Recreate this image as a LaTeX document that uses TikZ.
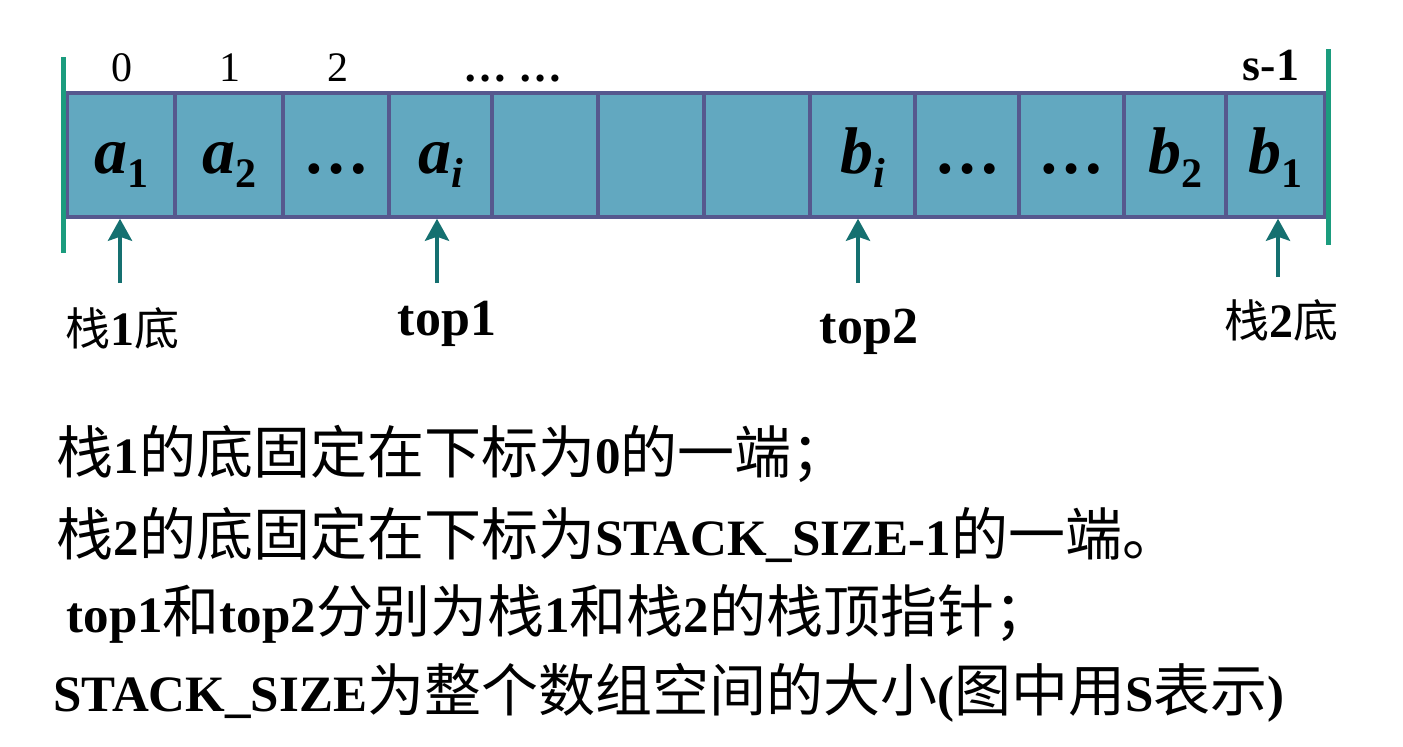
\documentclass[tikz,border=0pt]{standalone}
\usepackage{fontspec}
\setmainfont{Liberation Serif}
\newfontfamily\cjk{Noto Sans CJK SC}
\usetikzlibrary{arrows.meta}

\definecolor{cellfill}{RGB}{98,168,192}
\definecolor{cellline}{RGB}{86,88,142}
\definecolor{barcol}{RGB}{27,156,126}
\definecolor{ptrcol}{RGB}{21,112,112}

\newcommand{\zh}[2][57]{{\cjk\mdseries\fontsize{#1}{#1}\selectfont #2}}
\newcommand{\elem}[2]{{\bfseries\itshape #1}\raisebox{-14pt}{\fontsize{42}{42}\selectfont\bfseries #2}}

\begin{document}
\begin{tikzpicture}[
    x=1pt, y=-1pt,
    cell/.style={draw=cellline, fill=cellfill, line width=3.5pt, minimum height=124pt, inner sep=0pt, text height=36pt, text depth=0pt, font=\fontsize{66}{66}\selectfont},
    idx/.style={anchor=base, font=\fontsize{42}{42}\selectfont},
    ptr/.style={-{Stealth[length=22pt, width=24pt, inset=4pt]}, line width=4pt, draw=ptrcol},
    endbar/.style={line width=5pt, draw=barcol},
    tag/.style={anchor=base, font=\bfseries\fontsize{52}{52}\selectfont},
    note/.style={anchor=base west, font=\bfseries\fontsize{51}{51}\selectfont}
]
\path[use as bounding box, fill=white] (0,0) rectangle (1403,747);

\node[cell, minimum width=108pt] (c1) at (121,155) {\elem{a}{1}};
\node[cell, minimum width=108pt] (c2) at (229,155) {\elem{a}{2}};
\node[cell, minimum width=106pt] (c3) at (336,155) {\bfseries …};
\node[cell, minimum width=103pt] (c4) at (440.5,155) {\elem{a}{\itshape i}};
\node[cell, minimum width=106pt] (c5) at (545,155) {};
\node[cell, minimum width=106pt] (c6) at (651,155) {};
\node[cell, minimum width=106pt] (c7) at (757,155) {};
\node[cell, minimum width=105pt] (c8) at (862.5,155) {\elem{b}{\itshape i}};
\node[cell, minimum width=104pt] (c9) at (967,155) {\bfseries …};
\node[cell, minimum width=105pt] (c10) at (1071.5,155) {\bfseries …};
\node[cell, minimum width=102pt] (c11) at (1175,155) {\elem{b}{2}};
\node[cell, minimum width=99pt] (c12) at (1275.5,155) {\elem{b}{1}};

\draw[endbar] (63,57) -- (63,253);
\draw[endbar] (1328,49) -- (1328,245);

\node[idx] (i0) at (122,81) {0};
\node[idx] (i1) at (230,81) {1};
\node[idx] (i2) at (338,81) {2};
\node[idx, font=\bfseries\fontsize{44}{44}\selectfont] (idots) at (513,81) {… …};
\node[idx, font=\bfseries\fontsize{46}{46}\selectfont] (ilast) at (1271,80) {s-1};

\coordinate (p1) at (120,283);
\coordinate (p2) at (437,283);
\coordinate (p3) at (858,283);
\coordinate (p4) at (1278,277);
\draw[ptr] (p1) -- (p1 |- c1.south);
\draw[ptr] (p2) -- (p2 |- c4.south);
\draw[ptr] (p3) -- (p3 |- c8.south);
\draw[ptr] (p4) -- (p4 |- c12.south);

\node[tag, font=\bfseries\fontsize{48}{48}\selectfont] (base1) at (122,345) {\zh[45]{栈}1\zh[45]{底}};
\node[tag] (top1) at (447,335) {top1};
\node[tag] (top2) at (869,343) {top2};
\node[tag, font=\bfseries\fontsize{48}{48}\selectfont] (base2) at (1281,337) {\zh[45]{栈}2\zh[45]{底}};

\node[note] (line1) at (53,473) {\zh{栈}1\zh{的底固定在下标为}0\zh{的一端；}};
\node[note] (line2) at (53,555) {\zh{栈}2\zh{的底固定在下标为}STACK\_SIZE-1\zh{的一端。}};
\node[note] (line3) at (63,632) {top1\zh{和}top2\zh{分别为栈}1\zh{和栈}2\zh{的栈顶指针；}};
\node[note] (line4) at (50,711) {STACK\_SIZE\zh{为整个数组空间的大小}(\zh{图中用}S\zh{表示})};
\end{tikzpicture}
\end{document}
